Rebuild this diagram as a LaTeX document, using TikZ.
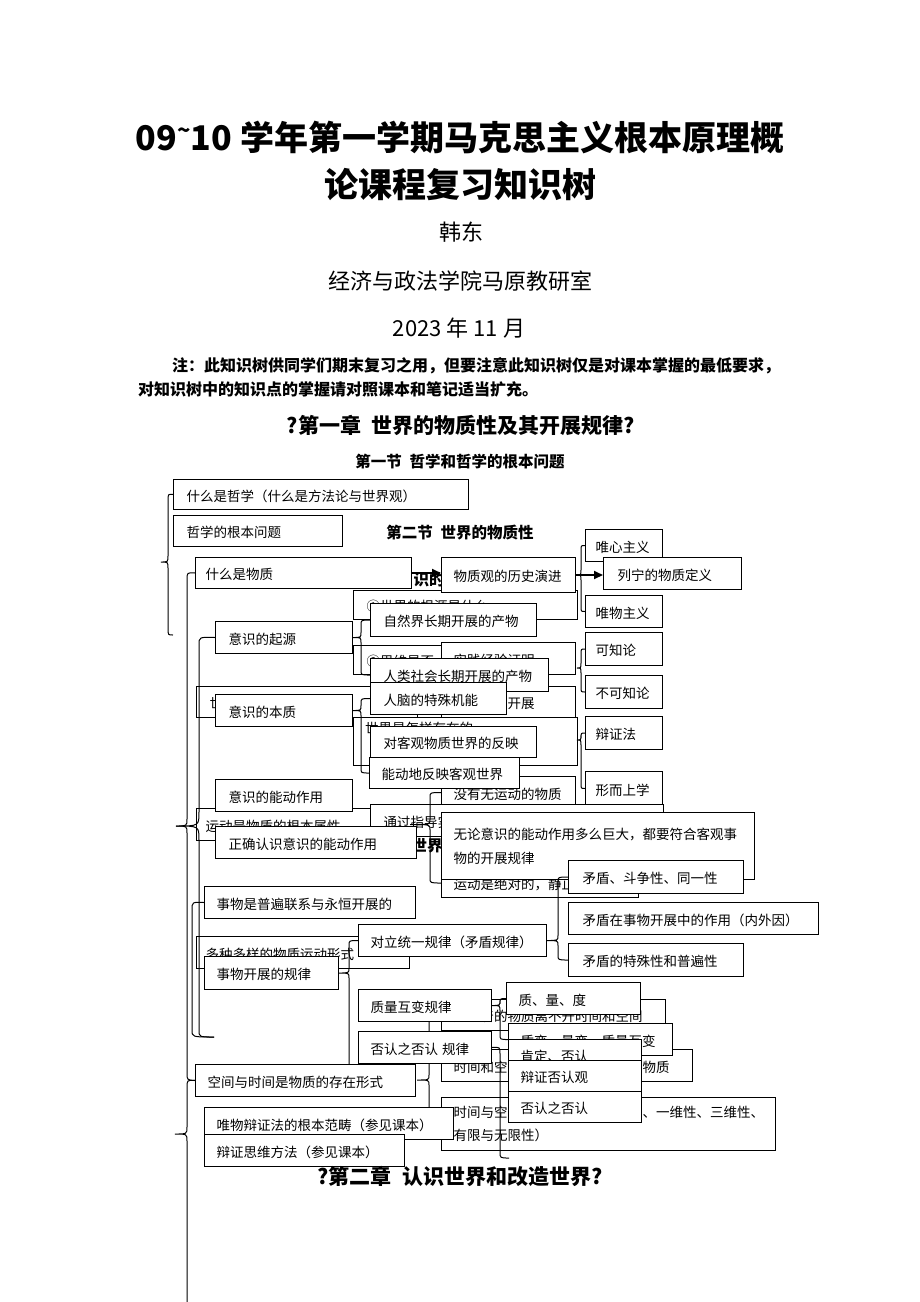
\documentclass[tikz,border=0pt]{standalone}
\usepackage{fontspec}
\setmainfont{Noto Sans CJK SC}
\usetikzlibrary{arrows.meta,calc}
\newcommand\bx[7][]{%
 \pgfmathsetmacro\bxw{#5-#3-26}\pgfmathsetmacro\bxh{#6-#4}%
 \node[box,#1,text width=\bxw pt,minimum height=\bxh pt] (#2) at (#3,#4) {#7};}
\newcommand\brc[4]{%
 \draw[con] let \p1=#1, \p2=#2, \p3=#3 in
 (\p2) .. controls (#4pt,\y2) .. (#4pt,\y2-5pt) -- (#4pt,\y1+5pt) .. controls (#4pt,\y1) .. (\p1)
 .. controls (#4pt,\y1) .. (#4pt,\y1-5pt) -- (#4pt,\y3+5pt) .. controls (#4pt,\y3) .. (\p3);}
\begin{document}
\begin{tikzpicture}[x=1pt,y=-1pt,
 box/.style={draw,line width=1pt,fill=white,anchor=north west,inner xsep=13pt,inner ysep=0pt,align=left,text height=13pt,text depth=0pt,font=\fontsize{13.5}{17}\selectfont},
 two/.style={text height={},text depth={}},
 hd/.style={font=\bfseries\fontsize{15.5}{18}\selectfont},
 con/.style={line width=1pt},
 arr/.style={line width=1.8pt,-{Triangle[length=9pt,width=8pt]}}]
\useasboundingbox (0,0) rectangle (920,1302);
\fill[white] (0,0) rectangle (920,1302);
% header
\node[font=\bfseries\fontsize{34}{40}\selectfont] (t1) at (460,137) {09\raisebox{0.35em}{\fontsize{22}{22}\selectfont\textasciitilde}10 学年第一学期马克思主义根本原理概};
\node[font=\bfseries\fontsize{34}{40}\selectfont] (t2) at (460,185) {论课程复习知识树};
\node[font=\fontsize{22}{26}\selectfont] (au) at (461,232) {韩东};
\node[font=\fontsize{22}{26}\selectfont] (dept) at (460,281) {经济与政法学院马原教研室};
\node[font=\fontsize{22}{26}\selectfont] (dt) at (459,328) {2023 年 11 月};
\node[font=\bfseries\fontsize{16}{20}\selectfont,anchor=west,inner sep=0pt] (n1) at (172,366) {注：此知识树供同学们期末复习之用，但要注意此知识树仅是对课本掌握的最低要求，};
\node[font=\bfseries\fontsize{16}{20}\selectfont,anchor=west,inner sep=0pt] (n2) at (138,389) {对知识树中的知识点的掌握请对照课本和笔记适当扩充。};
\node[font=\bfseries\fontsize{21}{24}\selectfont] (ch1) at (461,425) {?第一章\hspace{0.5em}世界的物质性及其开展规律?};
\node[hd] (s1) at (460,462) {第一节\hspace{0.5em}哲学和哲学的根本问题};
\node[hd] (s2) at (460,533) {第二节\hspace{0.5em}世界的物质性};
% first boxes
\bx{zx}{173}{479}{468}{509}{什么是哲学（什么是方法论与世界观）}
\bx{gbwt}{173}{515}{342}{546}{哲学的根本问题}
% hidden layer
\bx{h1}{353}{590}{577}{619}{①世界的根源是什么}
\bx{h2a}{353}{645}{441}{674}{②思维是否}
\bx[inner xsep=12pt]{h2b}{441}{642}{577}{674}{实践经验证明}
\bx{h3a}{196}{686}{417}{717}{世界的物质统一性}
\bx[inner xsep=12pt]{h3b}{441}{686}{577}{717}{世界永恒开展}
\bx{h4}{353}{717}{577}{765}{}
\node[font=\fontsize{13.5}{17}\selectfont,anchor=west,inner sep=0pt] (h4t) at (365,728) {世界是怎样存在的};
\bx[inner xsep=12pt]{h5}{441}{776}{577}{808}{没有无运动的物质}
\bx[inner xsep=9pt]{h6}{196}{808}{417}{840}{运动是物质的根本属性}
\bx[inner xsep=12pt]{h7}{441}{868}{640}{897}{运动是绝对的，静止是相对的}
\bx[inner xsep=9pt]{h8}{196}{936}{417}{968}{多种多样的物质运动形式}
\bx[inner xsep=12pt]{h9}{441}{999}{667}{1030}{运动着的物质离不开时间和空间}
\bx[inner xsep=12pt]{h10}{441}{1049}{694}{1081}{时间和空间也不能离开运动着的物质}
\bx[two,inner xsep=12pt,font=\fontsize{13.5}{23}\selectfont]{h11}{441}{1097}{777}{1150}{时间与空间的基本特性（客观性、一维性、三维性、\\有限与无限性）}
\node[hd] (frag1) at (429,580) {识的};
\node[hd] (frag2) at (427,846) {世界};
% left braces
\coordinate (b1e) at (173,635);
\draw[con] (zx.west) .. controls (168,494) .. (168,501) -- (168,556) .. controls (168,562) .. (161,562) .. controls (168,562) .. (168,568) -- (168,628) .. controls (168,635) .. (b1e);
\coordinate (b34) at (214,1037);
% matter boxes
\bx[inner xsep=10pt]{wz}{195}{557}{417}{588}{什么是物质}
\bx[inner xsep=12pt]{wzg}{441}{557}{577}{592}{物质观的历史演进}
\bx[inner xsep=10pt]{wx}{585}{529}{668}{561}{唯心主义}
\bx[inner xsep=14pt]{ln}{603}{557}{739}{589}{列宁的物质定义}
\bx[inner xsep=10pt]{ww}{585}{595}{668}{627}{唯物主义}
\bx[inner xsep=10pt]{kz}{585}{632}{668}{665}{可知论}
\bx[inner xsep=10pt]{bkz}{585}{675}{668}{708}{不可知论}
\bx[inner xsep=10pt]{bzf}{585}{716}{668}{749}{辩证法}
\bx[inner xsep=10pt]{xe}{585}{771}{668}{805}{形而上学}
\draw[arr] (wz.east) -- (wz.east -| wzg.west);
\draw[arr] (wzg.east) -- (wzg.east -| ln.west);
\brc{(wzg.east)}{(wx.west)}{(ww.west)}{581}
\coordinate (tk) at (577,668);
\brc{(tk)}{(kz.west)}{(bkz.west)}{581}
\coordinate (tb) at (577,740);
\brc{(tb)}{(bzf.west)}{(xe.west)}{581}
% consciousness boxes
\bx{ysqy}{215}{621}{352}{653}{意识的起源}
\bx{zrj}{370}{603}{536}{636}{自然界长期开展的产物}
\bx{rlsh}{370}{658}{548}{691}{人类社会长期开展的产物}
\bx{rn}{370}{682}{506}{714}{人脑的特殊机能}
\bx{ysbz}{215}{694}{352}{726}{意识的本质}
\bx{dkg}{370}{726}{536}{757}{对客观物质世界的反映}
\bx[inner xsep=12pt]{nd}{369}{757}{521}{788}{能动地反映客观世界}
\bx{ysnd}{215}{779}{352}{811}{意识的能动作用}
\bx{tgzd}{370}{804}{663}{836}{通过指导实践改造客观世界}
\bx[two,inner xsep=12pt,font=\fontsize{13.5}{24}\selectfont]{wl}{441}{812}{756}{879}{无论意识的能动作用多么巨大，都要符合客观事\\物的开展规律}
\bx{zqrs}{215}{826}{416}{858}{正确认识意识的能动作用}
\draw[con] (ysqy.west) .. controls (199,637) .. (199,645) -- (199,812) .. controls (199,826) .. (176,826) .. controls (199,826) .. (199,840) -- (199,1030) .. controls (199,1037) .. (b34);
\brc{(ysqy.east)}{(zrj.west)}{(rlsh.west)}{361}
\brc{(ysbz.east)}{(rn.west)}{(nd.west)}{361}
\brc{(h6.east)}{(h5.west)}{(h7.west)}{430}
% dialectics
\coordinate (jend) at (358,1070);
\coordinate (lend) at (509,1158);
\coordinate (kjt) at (417,1080);
\brc{(kjt)}{(h9.west)}{(h11.west)}{429}
\bx[inner xsep=12pt]{swpb}{204}{886}{417}{918}{事物是普遍联系与永恒开展的}
\draw[con] (swpb.west) .. controls (192,902) .. (192,910) -- (192,1030) .. controls (192,1037) .. (b34);
\bx[inner xsep=14pt]{md1}{568}{860}{741}{893}{矛盾、斗争性、同一性}
\bx[inner xsep=14pt]{md2}{568}{902}{816}{934}{矛盾在事物开展中的作用（内外因）}
\bx[inner xsep=14pt]{md3}{568}{943}{741}{976}{矛盾的特殊性和普遍性}
\bx[inner xsep=12pt]{dltx}{358}{924}{548}{956}{对立统一规律（矛盾规律）}
\bx[inner xsep=12pt]{swkz}{204}{956}{340}{989}{事物开展的规律}
\bx[inner xsep=12pt]{zlhb}{358}{989}{493}{1021}{质量互变规律}
\bx[inner xsep=12pt]{fdgl}{358}{1031}{493}{1063}{否认之否认\hspace{0.3em}规律}
\bx[inner xsep=12pt]{zld}{506}{982}{642}{1014}{质、量、度}
\bx[inner xsep=12pt]{zb}{508}{1023}{674}{1055}{质变、量变、质量互变}
\bx[inner xsep=12pt]{kd}{508}{1039}{643}{1070}{肯定、否认}
\bx[inner xsep=12pt]{bzfr}{508}{1060}{643}{1091}{辩证否认观}
\bx[inner xsep=12pt]{fdfd}{508}{1091}{643}{1122}{否认之否认}
\brc{(dltx.east)}{(md1.west)}{(md3.west)}{558}
\brc{(swkz.east)}{(dltx.west)}{(jend)}{349}
\brc{(zlhb.east)}{(zld.west)}{(zb.west)}{500}
\draw[con] (fdgl.east) .. controls (500,1047) .. (500,1054) -- (500,1152) .. controls (500,1158) .. (lend);
% space-time and bottom
\bx[inner xsep=12pt]{kjsj}{195}{1064}{417}{1096}{空间与时间是物质的存在形式}
\draw[con] (wz.west) .. controls (187,572.5) .. (187,580) -- (187,819) .. controls (187,826) .. (176,826) .. controls (187,826) .. (187,833) -- (187,1073) .. controls (187,1080) .. (kjsj.west);
\coordinate (b5e) at (187,1302);
\draw[con] (kjsj.west) .. controls (187,1080) .. (187,1088) -- (187,1127) .. controls (187,1134) .. (175,1134) .. controls (187,1134) .. (187,1141) -- (b5e);
\bx[inner xsep=12pt]{wbzf}{204}{1107}{455}{1139}{唯物辩证法的根本范畴（参见课本）}
\bx[inner xsep=12pt]{bzsw}{204}{1134}{406}{1166}{辩证思维方法（参见课本）}
\node[font=\bfseries\fontsize{21}{24}\selectfont] (ch2) at (460,1176) {?第二章\hspace{0.5em}认识世界和改造世界?};
\end{tikzpicture}
\end{document}
